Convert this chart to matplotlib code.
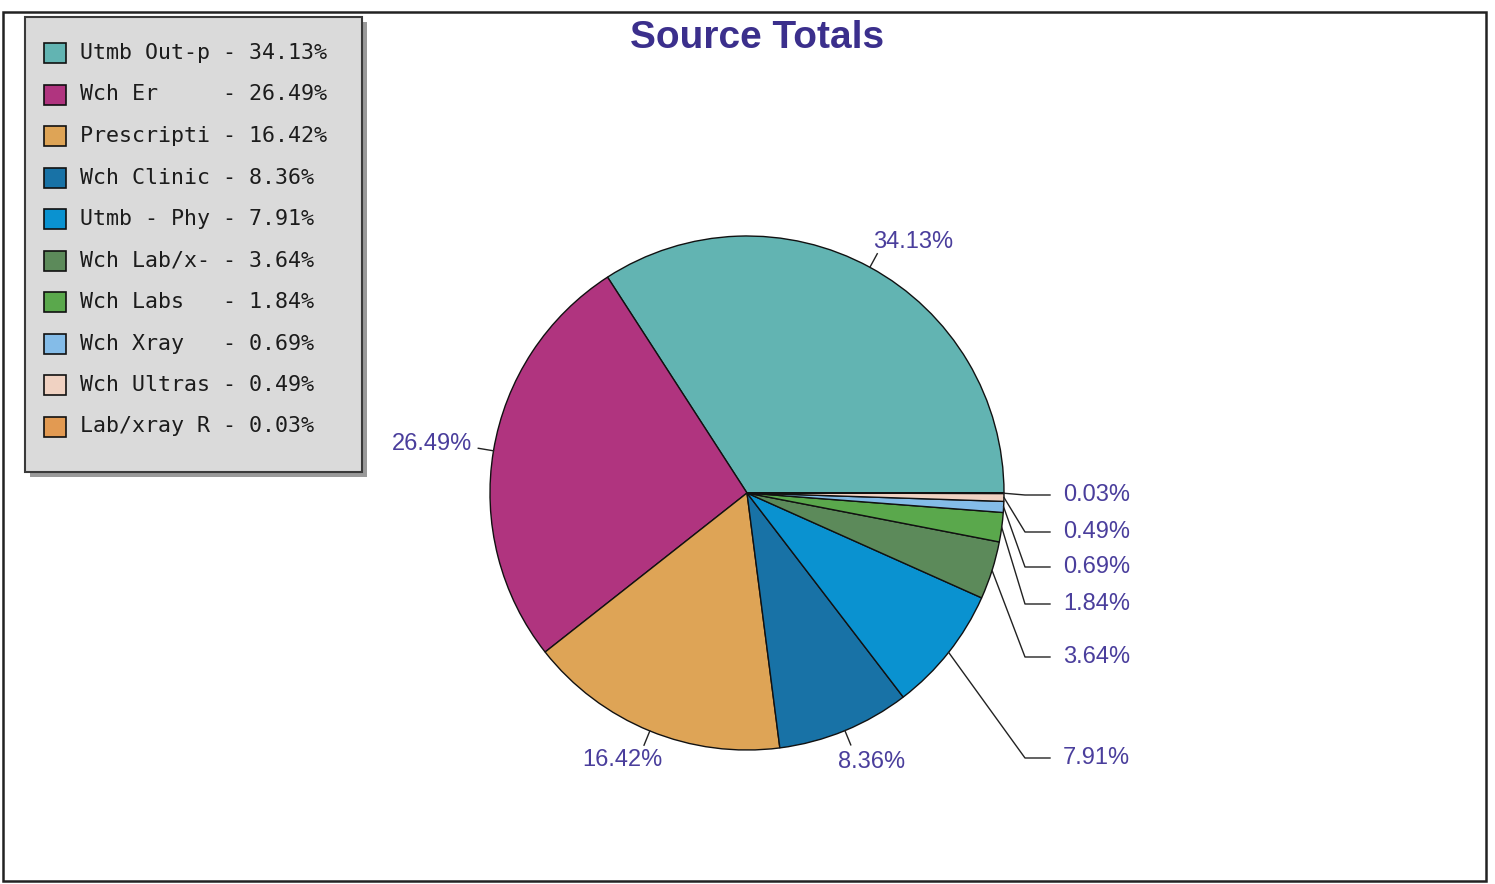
import matplotlib.pyplot as plt
from matplotlib.patches import Rectangle
import numpy as np

names = ['Utmb Out-p', 'Wch Er', 'Prescripti', 'Wch Clinic', 'Utmb - Phy',
         'Wch Lab/x-', 'Wch Labs', 'Wch Xray', 'Wch Ultras', 'Lab/xray R']
values = [34.13, 26.49, 16.42, 8.36, 7.91, 3.64, 1.84, 0.69, 0.49, 0.03]
colors = ['#62b4b2', '#b0347f', '#dea456', '#1872a6', '#0a92d0',
          '#5c8a5a', '#5aa84c', '#84bce8', '#f0d2c2', '#e29a52']

W, H = 1495, 884
cx, cy, r = 747, 493, 257
label_color = '#4a3e9c'

fig = plt.figure(figsize=(W / 100, H / 100), dpi=100)
ax = fig.add_axes([0, 0, 1, 1])

wedges, _ = ax.pie(values, colors=colors, startangle=0, counterclock=False,
                   center=(cx, cy), radius=r,
                   wedgeprops=dict(edgecolor='#111111', linewidth=1.0))
ax.set_xlim(0, W)
ax.set_ylim(H, 0)
ax.set_aspect('equal')
ax.axis('off')

def edge_point(w, scale=1.0):
    a = np.deg2rad((w.theta1 + w.theta2) / 2)
    return cx + scale * r * np.cos(a), cy + scale * r * np.sin(a)

# big slices: short tick and label beside it
big_pos = [(913, 242), (432, 444), (622, 760), (872, 762)]
for i, (tx, ty) in enumerate(big_pos):
    x0, y0 = edge_point(wedges[i])
    x1, y1 = edge_point(wedges[i], 1.06)
    ax.plot([x0, x1], [y0, y1], color='#222222', lw=1)
    ax.text(tx, ty, f'{values[i]:.2f}%', color=label_color, fontsize=17,
            family='Liberation Sans', ha='center', va='center')

# small slices: elbow leaders to a column on the right
elbow_y = [758, 657, 604, 567, 532, 495]
for i, ly in zip(range(4, 10), elbow_y):
    x0, y0 = edge_point(wedges[i])
    ax.plot([x0, 1025, 1050], [y0, ly, ly], color='#222222', lw=1)
    ax.text(1063, ly, f'{values[i]:.2f}%', color=label_color, fontsize=17,
            family='Liberation Sans', ha='left', va='center')

ax.text(757, 38, 'Source Totals', color='#3b2f8c', fontsize=28, fontweight='bold',
        family='Liberation Sans', ha='center', va='center')

# outer frame
ax.add_patch(Rectangle((3, 12), 1483, 869, fill=False, ec='#222222', lw=1.8))

# legend box
ax.add_patch(Rectangle((30, 22), 337, 455, fc='#9a9a9a', ec='none'))
ax.add_patch(Rectangle((25, 17), 337, 455, fc='#dadada', ec='#3a3a3a', lw=1.5))
for k, (n, v, c) in enumerate(zip(names, values, colors)):
    y = 53 + k * 41.5
    ax.add_patch(Rectangle((44, y - 10), 22, 20, fc=c, ec='#111111', lw=1.2))
    ax.text(80, y, f'{n:<10} - {v:.2f}%', family='DejaVu Sans Mono', fontsize=15.6,
            color='#1c1c1c', ha='left', va='center')

fig.savefig('out.png', dpi=100)
